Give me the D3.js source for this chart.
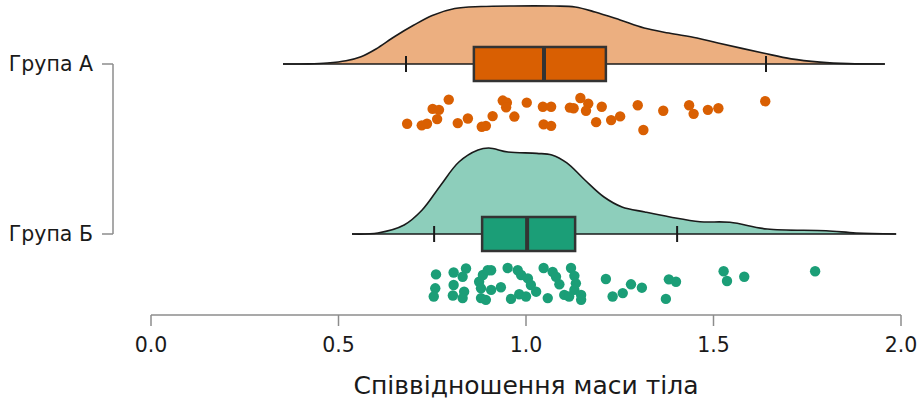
<!DOCTYPE html>
<html>
<head>
<meta charset="utf-8">
<script src="https://cdn.jsdelivr.net/npm/d3@7/dist/d3.min.js"></script>
<style>
  html, body { margin: 0; padding: 0; background: #fff; }
  svg { display: block; }
  text { font-family: "DejaVu Sans", sans-serif; fill: #1a1a1a; }
</style>
</head>
<body>
<svg id="chart" width="924" height="401"></svg>
<script>
// ---------------- data ----------------
const groups = ["Група А", "Група Б"];
const xTicks = [0.0, 0.5, 1.0, 1.5, 2.0];
const xTitle = "Співвідношення маси тіла";

const valuesA = [0.683,0.722,0.736,0.751,0.768,0.763,0.794,0.818,0.845,0.882,0.893,0.911,0.938,0.949,0.947,0.969,1.002,1.045,1.067,1.047,1.067,1.117,1.127,1.145,1.166,1.160,1.187,1.202,1.227,1.251,1.298,1.313,1.366,1.435,1.447,1.485,1.513,1.638];
const jitterA = [0.61,0.71,0.61,-0.32,-0.26,0.32,-0.90,0.57,0.28,0.80,0.74,0.13,-0.84,-0.71,-0.42,0.16,-0.71,-0.45,-0.45,0.65,0.74,-0.40,-0.36,-1.00,-0.65,-0.20,0.51,-0.45,0.38,0.15,-0.55,1.00,-0.20,-0.55,-0.01,-0.26,-0.36,-0.80];

const valuesB = [0.760,0.758,0.754,0.807,0.807,0.805,0.840,0.831,0.835,0.831,0.875,0.885,0.898,0.907,0.880,0.907,0.880,0.893,0.933,0.951,0.978,0.987,1.005,1.013,0.982,0.960,1.000,1.027,1.047,1.071,1.080,1.089,1.058,1.102,1.120,1.129,1.133,1.129,1.147,1.147,1.115,1.213,1.231,1.258,1.280,1.309,1.381,1.400,1.373,1.527,1.536,1.582,1.771];
const jitterB = [-0.60,0.27,0.78,-0.72,0.06,0.72,-0.97,-0.45,0.48,0.88,-0.14,-0.56,-0.86,-0.86,0.27,0.37,0.88,0.99,0.20,-1.00,-0.86,-0.56,-0.35,0.06,0.64,0.93,0.78,0.48,-1.00,-0.76,-0.45,0.02,0.88,0.68,-1.00,-0.51,-0.04,0.37,0.68,0.99,0.78,-0.31,0.78,0.57,0.02,0.23,-0.29,-0.14,0.93,-0.80,-0.19,-0.45,-0.80];

// density outlines: x value and relative density (1 = tallest cloud)
const densXA = [0.352,0.420,0.470,0.520,0.560,0.600,0.650,0.700,0.750,0.810,0.880,0.968,1.075,1.131,1.184,1.251,1.315,1.381,1.456,1.512,1.632,1.707,1.784,1.860,1.957];
const densYA = [0,0.002,0.012,0.038,0.085,0.175,0.320,0.450,0.565,0.645,0.668,0.675,0.674,0.663,0.605,0.512,0.419,0.360,0.302,0.244,0.128,0.060,0.022,0.004,0];
const densXB = [0.536,0.605,0.675,0.723,0.773,0.821,0.872,0.901,0.952,1.029,1.069,1.109,1.157,1.208,1.256,1.317,1.384,1.464,1.544,1.643,1.800,1.880,1.987];
const densYB = [0,0.012,0.105,0.279,0.570,0.837,0.977,1.0,0.953,0.938,0.919,0.826,0.628,0.430,0.314,0.256,0.198,0.143,0.136,0.058,0.038,0.012,0];

// box-plot statistics: [lower whisker, Q1, median, Q3, upper whisker]
const boxA = [0.680, 0.861, 1.048, 1.213, 1.640];
const boxB = [0.755, 0.883, 1.003, 1.131, 1.403];

const pointColors = ["#d95f02", "#1b9e77"];
const cloudColors = ["#ecaf80", "#8dcebb"];

// ---------------- layout ----------------
const svg = d3.select("#chart");
const x = d3.scaleLinear().domain([0, 2]).range([151, 901]);
const yBase = d3.scalePoint().domain(groups).range([64, 234]);
const jit = d3.scaleLinear().domain([-1, 1]).range([34, 66]); // offset below baseline
const h = d3.scaleLinear().domain([0, 1]).range([0, 86]).clamp(true);

const datasets = [
  {name: groups[0], values: valuesA, jitter: jitterA, box: boxA, dens: d3.zip(densXA, densYA), i: 0},
  {name: groups[1], values: valuesB, jitter: jitterB, box: boxB, dens: d3.zip(densXB, densYB), i: 1}
];

const curve = d3.curveCatmullRom.alpha(0.5);

datasets.forEach(ds => {
  const b = yBase(ds.name);
  const g = svg.append("g");
  const area = d3.area().x(p => x(p[0])).y0(b).y1(p => b - h(p[1])).curve(curve);
  g.append("path").datum(ds.dens).attr("d", area)
    .attr("fill", cloudColors[ds.i]).attr("stroke", "none");
  const line = d3.line().x(p => x(p[0])).y(p => b - h(p[1])).curve(curve);
  g.append("path").datum(ds.dens).attr("d", line)
    .attr("fill", "none").attr("stroke", "#1a1a1a").attr("stroke-width", 1.6);
  g.append("line").attr("x1", x(ds.dens[0][0])).attr("x2", x(ds.dens[ds.dens.length - 1][0]))
    .attr("y1", b).attr("y2", b).attr("stroke", "#1a1a1a").attr("stroke-width", 1.6);

  // whiskers
  const [wl, q1, med, q3, wh] = ds.box;
  [wl, wh].forEach(v => g.append("line").attr("x1", x(v)).attr("x2", x(v))
    .attr("y1", b - 8).attr("y2", b + 8).attr("stroke", "#1a1a1a").attr("stroke-width", 2));
  // box
  g.append("rect").attr("x", x(q1)).attr("y", b - 17).attr("width", x(q3) - x(q1)).attr("height", 34)
    .attr("fill", pointColors[ds.i]).attr("stroke", "#333").attr("stroke-width", 2.5);
  g.append("line").attr("x1", x(med)).attr("x2", x(med)).attr("y1", b - 17).attr("y2", b + 17)
    .attr("stroke", "#333").attr("stroke-width", 4);

  // rain
  g.selectAll("circle").data(ds.values).join("circle")
    .attr("cx", v => x(v)).attr("cy", (v, k) => b + jit(ds.jitter[k]))
    .attr("r", 5.2).attr("fill", pointColors[ds.i]);
});

// x axis (base-R style)
const xa = svg.append("g").attr("transform", "translate(0,315)");
xa.append("line").attr("x1", x(xTicks[0])).attr("x2", x(xTicks[xTicks.length - 1]))
  .attr("stroke", "#8c8c8c").attr("stroke-width", 1.5);
xa.selectAll(".tk").data(xTicks).join("line").attr("class", "tk")
  .attr("x1", d => x(d)).attr("x2", d => x(d)).attr("y1", 0).attr("y2", 11)
  .attr("stroke", "#8c8c8c").attr("stroke-width", 1.5);
xa.selectAll(".lb").data(xTicks).join("text").attr("class", "lb")
  .attr("x", d => x(d)).attr("y", 37).attr("text-anchor", "middle")
  .style("font-size", "20.5px").text(d => d.toFixed(1));
svg.append("text").attr("x", (x(0) + x(2)) / 2).attr("y", 394).attr("text-anchor", "middle")
  .style("font-size", "25px").text(xTitle);

// y axis bracket
const ya = svg.append("g");
ya.append("line").attr("x1", 113).attr("x2", 113).attr("y1", yBase(groups[0])).attr("y2", yBase(groups[1]))
  .attr("stroke", "#8c8c8c").attr("stroke-width", 1.5);
ya.selectAll(".tk").data(groups).join("line").attr("class", "tk")
  .attr("x1", 102).attr("x2", 113).attr("y1", d => yBase(d)).attr("y2", d => yBase(d))
  .attr("stroke", "#8c8c8c").attr("stroke-width", 1.5);
ya.selectAll(".lb").data(groups).join("text").attr("class", "lb")
  .attr("x", 93).attr("y", d => yBase(d)).attr("dy", "0.35em").attr("text-anchor", "end")
  .style("font-size", "20.5px").text(d => d);
</script>
</body>
</html>
